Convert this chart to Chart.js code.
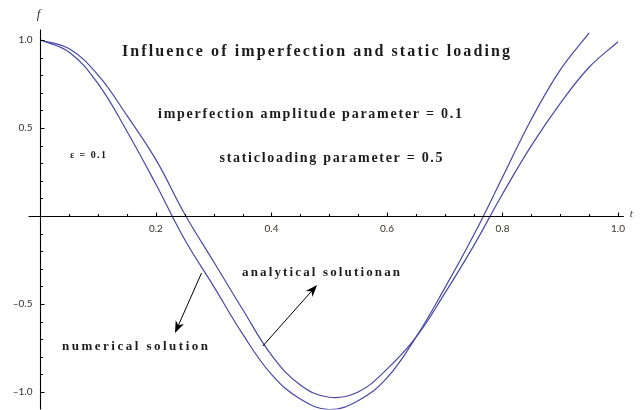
<!DOCTYPE html>
<html>
<head>
<meta charset="utf-8">
<script src="https://cdn.jsdelivr.net/npm/chart.js@4.4.1/dist/chart.umd.min.js"></script>
<style>
  html, body { margin: 0; padding: 0; background: #fff; }
  #wrap { width: 644px; height: 410px; }
</style>
</head>
<body>
<div id="wrap"><canvas id="chart" width="644" height="410"></canvas></div>
<script>
// time values t (x axis)
const tValues = [0, 0.05, 0.1, 0.15, 0.2, 0.25, 0.3, 0.35, 0.4, 0.45, 0.5,
                 0.55, 0.6, 0.65, 0.7, 0.75, 0.8, 0.85, 0.9, 0.95, 1.0];

// numerical solution f(t) (leaves the plot just after t = 0.95)
const numerical = [1.00, 0.93, 0.75, 0.48, 0.18, -0.135, -0.40, -0.67, -0.90, -1.04, -1.10,
                   -1.05, -0.92, -0.69, -0.41, -0.11, 0.22, 0.55, 0.83, 1.04];

// analytical solution f(t)
const analytical = [1.00, 0.95, 0.80, 0.57, 0.32, 0.01, -0.26, -0.53, -0.79, -0.96, -1.03,
                    -1.00, -0.87, -0.69, -0.44, -0.17, 0.125, 0.40, 0.64, 0.845, 0.99];

const xTickLabels = [0.2, 0.4, 0.6, 0.8, 1.0];
const yTickLabels = [-1.0, -0.5, 0.5, 1.0];

const lineColor = '#4848a8';
const textColor = '#1c1c1c';
const serifBold = 'bold 14px "Liberation Serif", "DejaVu Serif", serif';

function toPoints(values) {
    return values.map((v, i) => ({ x: tValues[i], y: v }));
}

function fmt(v) {
    return v.toFixed(1).replace('-', '\u2013');
}

// text stretched to a given width with letter spacing
function spacedText(ctx, text, cx, cy, width, font) {
    ctx.font = font;
    ctx.letterSpacing = '0px';
    const w = ctx.measureText(text).width;
    const sp = (width - w) / (text.length - 1);
    ctx.letterSpacing = sp.toFixed(2) + 'px';
    ctx.textAlign = 'left';
    ctx.textBaseline = 'middle';
    ctx.fillText(text, cx - width / 2, cy);
    ctx.letterSpacing = '0px';
}

function arrow(ctx, x1, y1, x2, y2) {
    const ang = Math.atan2(y2 - y1, x2 - x1);
    const len = 12, half = 4.5;
    ctx.beginPath();
    ctx.moveTo(x1, y1);
    ctx.lineTo(x2 - Math.cos(ang) * len * 0.6, y2 - Math.sin(ang) * len * 0.6);
    ctx.stroke();
    ctx.beginPath();
    ctx.moveTo(x2, y2);
    ctx.lineTo(x2 - Math.cos(ang) * len - Math.sin(ang) * half, y2 - Math.sin(ang) * len + Math.cos(ang) * half);
    ctx.lineTo(x2 - Math.cos(ang) * len * 0.7, y2 - Math.sin(ang) * len * 0.7);
    ctx.lineTo(x2 - Math.cos(ang) * len + Math.sin(ang) * half, y2 - Math.sin(ang) * len - Math.cos(ang) * half);
    ctx.closePath();
    ctx.fill();
}

const decor = {
    id: 'decor',
    afterDatasetsDraw(chart) {
        const { ctx } = chart;
        const x = chart.scales.x, y = chart.scales.y;
        const x0 = Math.round(x.getPixelForValue(0)) + 0.5;
        const y0 = Math.round(y.getPixelForValue(0)) + 0.5;
        ctx.save();
        ctx.strokeStyle = '#000';
        ctx.fillStyle = '#000';
        ctx.lineWidth = 1.1;

        // axes
        ctx.beginPath();
        ctx.moveTo(x0 - 12, y0);
        ctx.lineTo(x.right, y0);
        ctx.moveTo(x0, y.top);
        ctx.lineTo(x0, y.bottom);
        ctx.stroke();

        // ticks on x (every 0.05, longer at 0.2)
        ctx.beginPath();
        for (let i = 1; i <= 20; i++) {
            const px = Math.round(x.getPixelForValue(i * 0.05)) + 0.5;
            const len = i % 4 === 0 ? 4 : 2.5;
            ctx.moveTo(px, y0);
            ctx.lineTo(px, y0 - len);
        }
        // ticks on y (every 0.1, longer at 0.5)
        for (let i = -11; i <= 10; i++) {
            if (i === 0) continue;
            const py = Math.round(y.getPixelForValue(i / 10)) + 0.5;
            const len = i % 5 === 0 ? 4 : 2.5;
            ctx.moveTo(x0, py);
            ctx.lineTo(x0 + len, py);
        }
        ctx.stroke();

        // tick labels
        ctx.fillStyle = '#3a3226';
        ctx.font = '10px Lato, "Liberation Sans", sans-serif';
        ctx.textAlign = 'center';
        ctx.textBaseline = 'top';
        xTickLabels.forEach(v => ctx.fillText(fmt(v), x.getPixelForValue(v), y0 + 7));
        ctx.textAlign = 'right';
        ctx.textBaseline = 'middle';
        yTickLabels.forEach(v => ctx.fillText(fmt(v), x0 - 8, y.getPixelForValue(v)));

        // axis names
        ctx.font = 'italic 13px "Liberation Serif", serif';
        ctx.textAlign = 'center';
        ctx.fillText('f', x0 - 2, 15);
        ctx.font = 'italic 11px "Liberation Serif", serif';
        ctx.textAlign = 'left';
        ctx.fillText('t', x.right + 6, y0 - 2);

        // annotations
        ctx.fillStyle = textColor;
        spacedText(ctx, 'Influence of imperfection and static loading', 316, 52, 388, 'bold 16px "Liberation Serif", serif');
        spacedText(ctx, 'imperfection amplitude parameter = 0.1', 310, 114, 304, serifBold);
        spacedText(ctx, 'staticloading parameter = 0.5', 331, 158, 223, serifBold);
        spacedText(ctx, 'analytical solutionan', 321, 273, 158, 'bold 13px "Liberation Serif", serif');
        spacedText(ctx, 'numerical solution', 135, 347, 146, 'bold 13px "Liberation Serif", serif');
        spacedText(ctx, '\u03b5 = 0.1', 88, 155, 36, 'bold 10px "Liberation Serif", serif');

        // arrows from the curves to their labels
        ctx.fillStyle = '#000';
        ctx.lineWidth = 1;
        arrow(ctx, x.getPixelForValue(0.279), y.getPixelForValue(-0.324),
                   x.getPixelForValue(0.233), y.getPixelForValue(-0.665));
        arrow(ctx, x.getPixelForValue(0.385), y.getPixelForValue(-0.739),
                   x.getPixelForValue(0.479), y.getPixelForValue(-0.392));
        ctx.restore();
    }
};

const ctx = document.getElementById('chart').getContext('2d');
new Chart(ctx, {
    type: 'line',
    data: {
        datasets: [
            {
                label: 'numerical solution',
                data: toPoints(numerical),
                borderColor: lineColor,
                borderWidth: 1.2,
                pointRadius: 0,
                tension: 0.4,
                fill: false
            },
            {
                label: 'analytical solution',
                data: toPoints(analytical),
                borderColor: lineColor,
                borderWidth: 1.2,
                pointRadius: 0,
                tension: 0.4,
                fill: false
            }
        ]
    },
    options: {
        responsive: false,
        animation: false,
        devicePixelRatio: 1,
        layout: { padding: { left: 40.4, top: 29.4, right: 20.2, bottom: 0.4 } },
        plugins: { legend: { display: false }, tooltip: { enabled: false } },
        scales: {
            x: { type: 'linear', min: 0, max: 1.01, display: false },
            y: { type: 'linear', min: -1.1, max: 1.06, display: false }
        }
    },
    plugins: [decor]
});
</script>
</body>
</html>
